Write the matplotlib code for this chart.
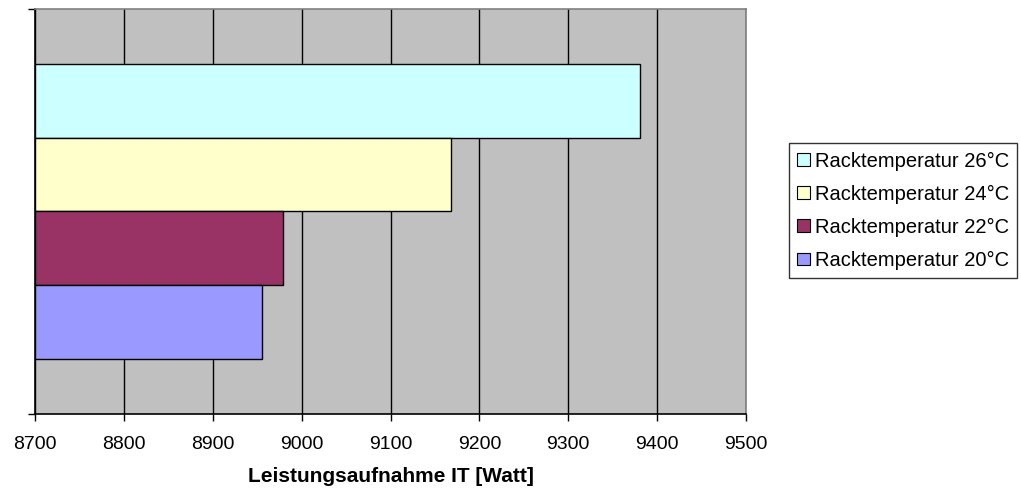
import matplotlib.pyplot as plt
from matplotlib.patches import Patch

# power draw of the IT load per rack inlet temperature
series_labels = [
    "Racktemperatur 26°C",
    "Racktemperatur 24°C",
    "Racktemperatur 22°C",
    "Racktemperatur 20°C",
]
power_watt = [9381, 9168, 8979, 8955]
series_colors = ["#CCFFFF", "#FFFFCC", "#993366", "#9999FF"]

x_ticks = [8700, 8800, 8900, 9000, 9100, 9200, 9300, 9400, 9500]
x_label = "Leistungsaufnahme IT [Watt]"

plt.rcParams["font.family"] = ["Liberation Sans", "DejaVu Sans"]

fig = plt.figure(figsize=(10.21, 4.94), dpi=100)
ax = fig.add_axes([0.0343, 0.162, 0.6964, 0.8202])
ax.set_facecolor("#C0C0C0")

bar_h = 0.182
base = x_ticks[0]
for i, (val, col) in enumerate(zip(power_watt, series_colors)):
    y = 0.5 + (i - 1.5) * bar_h
    ax.barh(y, val - base, left=base, height=bar_h, color=col,
            edgecolor="black", linewidth=1.0, zorder=3)

ax.set_xlim(x_ticks[0], x_ticks[-1])
ax.set_ylim(1, 0)
ax.set_xticks(x_ticks)
ax.set_xticklabels([str(t) for t in x_ticks], fontsize=14)
ax.set_yticks([0, 1])
ax.set_yticklabels([])
ax.tick_params(axis="both", direction="out", length=5, width=1.0, color="black", pad=11)
ax.grid(True, axis="x", color="black", linewidth=1.0, zorder=1)
ax.set_axisbelow(True)

ax.spines["left"].set_color("black")
ax.spines["bottom"].set_color("black")
ax.spines["top"].set_color("#808080")
ax.spines["right"].set_color("#808080")
for s in ax.spines.values():
    s.set_linewidth(1.2)

ax.set_xlabel(x_label, fontsize=15, fontweight="bold", labelpad=10)

handles = [Patch(facecolor=c, edgecolor="black", linewidth=0.8, label=l)
           for l, c in zip(series_labels, series_colors)]
leg = fig.legend(handles=handles, loc="upper left",
                 bbox_to_anchor=(789 / 1021, 1 - 143 / 494),
                 fontsize=14.5, frameon=True, fancybox=False,
                 handlelength=0.6, handleheight=0.6, handletextpad=0.25,
                 labelspacing=0.7, borderpad=0.42, borderaxespad=0)
leg.get_frame().set_edgecolor("black")
leg.get_frame().set_linewidth(1.0)

fig.savefig("out.png", dpi=100)
